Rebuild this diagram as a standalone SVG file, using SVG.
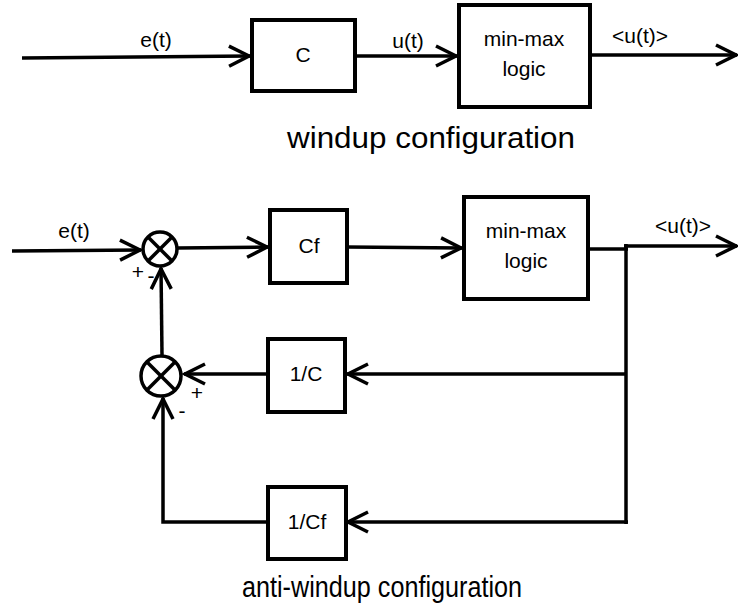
<svg xmlns="http://www.w3.org/2000/svg" width="738" height="610" viewBox="0 0 738 610">
  <defs>
    <marker id="arr" viewBox="-3 -3 28 26" refX="21" refY="10" markerWidth="28" markerHeight="26" markerUnits="userSpaceOnUse" orient="auto">
      <path d="M0,0 L20,10 L0,20" fill="none" stroke="#000" stroke-width="3.5"/>
    </marker>
    <style>
      .box { fill: #fff; stroke: #000; stroke-width: 4; }
      .ln { fill: none; stroke: #000; stroke-width: 3.5; }
      .sum { fill: #fff; stroke: #000; stroke-width: 3.5; }
      .t { font-family: "Liberation Sans", Arial, sans-serif; font-size: 21px; fill: #000; text-anchor: middle; }
      .s { font-family: "Liberation Sans", Arial, sans-serif; font-size: 21px; fill: #000; text-anchor: middle; }
      .cap { font-family: "Liberation Sans", Arial, sans-serif; fill: #000; text-anchor: middle; }
    </style>
  </defs>
  <rect width="738" height="610" fill="#fff"/>

  <g id="connectors">
    <!-- top -->
    <line class="ln" x1="22" y1="58" x2="250" y2="56" marker-end="url(#arr)"/>
    <line class="ln" x1="355" y1="56" x2="457" y2="56" marker-end="url(#arr)"/>
    <line class="ln" x1="590" y1="55" x2="737" y2="55" marker-end="url(#arr)"/>
    <!-- bottom -->
    <line class="ln" x1="12" y1="251" x2="141" y2="250" marker-end="url(#arr)"/>
    <line class="ln" x1="177" y1="248" x2="268" y2="247" marker-end="url(#arr)"/>
    <line class="ln" x1="347" y1="247" x2="462" y2="248" marker-end="url(#arr)"/>
    <line class="ln" x1="588" y1="249" x2="628" y2="249"/>
    <line class="ln" x1="624" y1="246" x2="737" y2="246" marker-end="url(#arr)"/>
    <line class="ln" x1="626" y1="244" x2="626" y2="524"/>
    <line class="ln" x1="626" y1="374" x2="347" y2="374" marker-end="url(#arr)"/>
    <line class="ln" x1="268" y1="374" x2="184" y2="374" marker-end="url(#arr)"/>
    <line class="ln" x1="162" y1="355" x2="161" y2="268" marker-end="url(#arr)"/>
    <line class="ln" x1="628" y1="522" x2="347" y2="522" marker-end="url(#arr)"/>
    <polyline class="ln" points="268,522 163,522 163,398" marker-end="url(#arr)"/>
  </g>

  <g id="lbl-e-top"><text class="t" x="156" y="47">e(t)</text></g>
  <g id="box-C">
    <rect class="box" x="252" y="20" width="103" height="71"/>
    <text class="t" x="303" y="62">C</text>
  </g>
  <g id="lbl-u-top"><text class="t" x="408" y="48">u(t)</text></g>
  <g id="box-minmax-top">
    <rect class="box" x="459" y="5" width="131" height="102"/>
    <text class="t" x="524" y="46">min-max</text>
    <text class="t" x="524" y="76">logic</text>
  </g>
  <g id="lbl-out-top"><text class="t" x="640" y="43">&lt;u(t)&gt;</text></g>
  <g id="cap-top"><text class="cap" x="431" y="148" font-size="30" textLength="288" lengthAdjust="spacingAndGlyphs">windup configuration</text></g>

  <g id="lbl-e-bot"><text class="t" x="74" y="238">e(t)</text></g>
  <g id="sum1">
    <circle class="sum" cx="160" cy="249" r="17"/>
    <line class="ln" x1="148" y1="237" x2="172" y2="261"/>
    <line class="ln" x1="172" y1="237" x2="148" y2="261"/>
    <text class="s" x="138" y="279">+</text>
    <text class="s" x="151" y="283">-</text>
  </g>
  <g id="box-Cf">
    <rect class="box" x="270" y="210" width="77" height="73"/>
    <text class="t" x="309" y="253">Cf</text>
  </g>
  <g id="box-minmax-bot">
    <rect class="box" x="464" y="197" width="124" height="102"/>
    <text class="t" x="526" y="238">min-max</text>
    <text class="t" x="526" y="268">logic</text>
  </g>
  <g id="lbl-out-bot"><text class="t" x="683" y="233">&lt;u(t)&gt;</text></g>
  <g id="sum2">
    <circle class="sum" cx="161" cy="376" r="20"/>
    <line class="ln" x1="147" y1="362" x2="175" y2="390"/>
    <line class="ln" x1="175" y1="362" x2="147" y2="390"/>
    <text class="s" x="197" y="400">+</text>
    <text class="s" x="182" y="418">-</text>
  </g>
  <g id="box-invC">
    <rect class="box" x="268" y="339" width="77" height="73"/>
    <text class="t" x="306" y="381">1/C</text>
  </g>
  <g id="box-invCf">
    <rect class="box" x="268" y="487" width="78" height="72"/>
    <text class="t" x="307" y="529">1/Cf</text>
  </g>
  <g id="cap-bot"><text class="cap" x="382" y="597" font-size="29" textLength="280" lengthAdjust="spacingAndGlyphs">anti-windup configuration</text></g>
</svg>
